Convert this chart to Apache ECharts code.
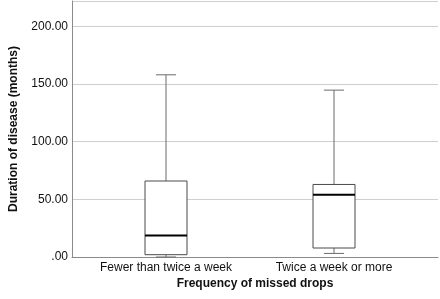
<!DOCTYPE html>
<html>
<head>
<meta charset="utf-8">
<script src="https://cdn.jsdelivr.net/npm/echarts@6/dist/echarts.min.js"></script>
<style>
  html, body { margin: 0; padding: 0; background: #fff; }
  #chart { width: 440px; height: 299px; }
</style>
</head>
<body>
<div id="chart"></div>
<script>
// groups on the x axis
let groups = ['Fewer than twice a week', 'Twice a week or more'];
// box stats: [low whisker, Q1, median, Q3, high whisker]
let lowWhisker = [0, 3.1];
let q1 = [2, 7.8];
let median = [18.7, 54];
let q3 = [65.9, 62.9];
let highWhisker = [158, 144.7];
let yTicks = [0, 50, 100, 150, 200];

var chartDom = document.getElementById('chart');
var myChart = echarts.init(chartDom);

var boxData = groups.map(function (g, i) {
  return [i, lowWhisker[i], q1[i], median[i], q3[i], highWhisker[i]];
});

function renderBox(params, api) {
  var idx = api.value(0);
  var band = api.size([1, 0])[0];
  var half = band * 0.125;
  var capHalf = band * 0.06;
  var pLow = api.coord([idx, api.value(1)]);
  var pQ1 = api.coord([idx, api.value(2)]);
  var pMed = api.coord([idx, api.value(3)]);
  var pQ3 = api.coord([idx, api.value(4)]);
  var pHigh = api.coord([idx, api.value(5)]);
  var x = pQ1[0];
  var grey = { stroke: '#6b6b6b', lineWidth: 1 };
  return {
    type: 'group',
    children: [
      // whiskers
      { type: 'line', shape: { x1: x, y1: pQ3[1], x2: x, y2: pHigh[1] }, style: grey },
      { type: 'line', shape: { x1: x, y1: pQ1[1], x2: x, y2: pLow[1] }, style: grey },
      { type: 'line', shape: { x1: x - capHalf, y1: pHigh[1], x2: x + capHalf, y2: pHigh[1] }, style: grey },
      { type: 'line', shape: { x1: x - capHalf, y1: pLow[1], x2: x + capHalf, y2: pLow[1] }, style: grey },
      // box
      {
        type: 'rect',
        shape: { x: x - half, y: pQ3[1], width: half * 2, height: pQ1[1] - pQ3[1] },
        style: { fill: '#ffffff', stroke: '#4a4a4a', lineWidth: 1 }
      },
      // median
      { type: 'line', shape: { x1: x - half, y1: pMed[1], x2: x + half, y2: pMed[1] }, style: { stroke: '#000', lineWidth: 2 } }
    ]
  };
}

option = {
  animation: false,
  textStyle: { fontFamily: 'Liberation Sans, Arial, sans-serif' },
  grid: [
    { left: 62, right: 2, top: 1, bottom: 42 },
    { left: 82, right: 22, top: 1, bottom: 42 }
  ],
  xAxis: [
    {
      type: 'category',
      gridIndex: 0,
      data: groups,
      axisLine: { lineStyle: { color: '#8a8a8a' } },
      axisTick: { show: false },
      axisLabel: { show: false },
      name: 'Frequency of missed drops',
      nameLocation: 'middle',
      nameGap: 21,
      nameTextStyle: { fontSize: 12, fontWeight: 'bold', color: '#111' }
    },
    {
      type: 'category',
      gridIndex: 1,
      data: groups,
      axisLine: { show: false },
      axisTick: { show: false },
      axisLabel: { fontSize: 12, color: '#111', margin: 5, interval: 0, hideOverlap: false }
    }
  ],
  yAxis: [
    {
      type: 'value',
      gridIndex: 0,
      min: 0,
      max: 222,
      interval: 50,
      axisLine: { show: true, lineStyle: { color: '#8a8a8a' } },
      axisTick: { show: false },
      axisLabel: {
        fontSize: 12,
        color: '#111',
        margin: 4,
        formatter: function (v) {
          if (yTicks.indexOf(v) < 0) return '';
          return v === 0 ? '.00' : v.toFixed(2);
        }
      },
      splitLine: { lineStyle: { color: '#cfcfcf' } },
      name: 'Duration of disease (months)',
      nameLocation: 'middle',
      nameGap: 52,
      nameTextStyle: { fontSize: 12, fontWeight: 'bold', color: '#111' }
    },
    {
      type: 'value',
      gridIndex: 1,
      min: 0,
      max: 222,
      show: false
    }
  ],
  series: [
    {
      type: 'custom',
      xAxisIndex: 1,
      yAxisIndex: 1,
      renderItem: renderBox,
      encode: { x: 0, y: [1, 2, 3, 4, 5] },
      data: boxData
    }
  ]
};

myChart.setOption(option);
</script>
</body>
</html>
